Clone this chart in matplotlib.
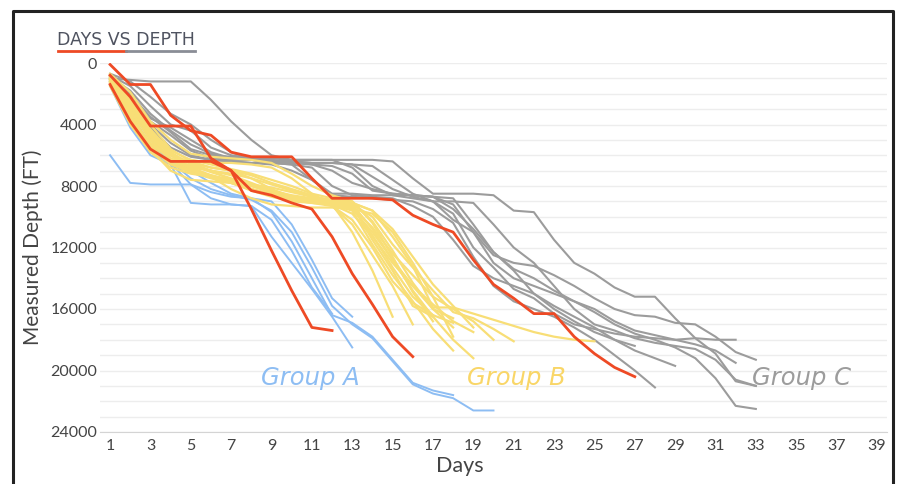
import matplotlib.pyplot as plt
from matplotlib.lines import Line2D

plt.rcParams['font.family'] = ['Lato', 'DejaVu Sans']

# depth (ft) per day, every well starts on day 1
group_a = [
    [1000, 3800, 5800, 6500, 7900, 8800, 9200, 9300, 11300, 13000, 14700, 16500, 18500],
    [800, 3000, 5000, 6300, 7000, 7800, 8500, 8800, 9700, 11600, 14000, 16400, 16900, 17800, 19300, 20800, 21300, 21600],
    [1200, 3300, 5300, 6400, 7500, 8200, 8600, 8900, 9600, 11000, 13300, 15800, 17000, 17900, 19400, 20900, 21500, 21800, 22600, 22600],
    [6000, 7800, 7900, 7900, 7900, 8400, 8700, 8800, 9000, 10500, 12800, 15300, 16500],
    [1500, 4200, 6000, 6600, 9100, 9200, 9200, 9300, 10200, 12200, 14600, 16300],
]

group_b = [
    [900, 2500, 4500, 6000, 6800, 7000, 7300, 7800, 8300, 8800, 9000, 9200, 11000, 13500, 16500],
    [1100, 3000, 5000, 6300, 6300, 6500, 6500, 6600, 6800, 7500, 8500, 9300, 10500, 12500, 14500, 17000],
    [1300, 3500, 5200, 6000, 6500, 7000, 7600, 8200, 8600, 8800, 9000, 9100, 9300, 11500, 13500, 15800, 16500],
    [800, 2200, 4000, 5600, 6400, 6800, 7000, 7300, 7800, 8200, 8600, 9000, 9200, 10800, 12800, 14500, 16000, 16600],
    [1000, 2800, 4800, 6200, 6900, 7400, 7800, 8200, 8600, 8900, 9100, 9300, 10200, 12000, 14200, 15600, 16400, 16900],
    [1200, 3200, 5500, 6600, 7100, 7500, 7800, 8200, 8500, 8800, 9000, 9200, 9600, 11800, 13800, 15500, 17300, 18700],
    [900, 2600, 4600, 5900, 6500, 6800, 7000, 7500, 8200, 8700, 8900, 9100, 9500, 11000, 12800, 14800, 16500, 18000, 19200],
    [1100, 3100, 5000, 6300, 7000, 7400, 7800, 8300, 8700, 9000, 9100, 9200, 9800, 11300, 13000, 14500, 15700, 16800, 17500],
    [1000, 2900, 4700, 6000, 6800, 7300, 7700, 8000, 8400, 8800, 9000, 9100, 9400, 10700, 12400, 13800, 15200, 16000, 16800, 18000],
    [1200, 3300, 5400, 6500, 7000, 7300, 7600, 8000, 8400, 8700, 8900, 9000, 9200, 10000, 11800, 13300, 14800, 16200, 16600, 17300, 18100],
    [800, 2400, 4300, 5800, 6600, 7100, 7500, 7900, 8300, 8600, 8800, 9000, 9100, 9600, 11300, 13200, 15900, 15900, 16300, 16700, 17100, 17500, 17800, 18000, 18100],
    [1500, 4000, 5800, 6800, 7200, 7400, 8200, 8800, 9200, 9300, 9400, 9400, 9500, 9800, 11000, 13000, 15200, 17800],
    [1000, 2700, 4400, 5700, 6300, 6600, 6900, 7200, 7600, 8000, 8500, 8800, 9000, 10300, 12200, 14300, 16000, 17200],
    [1300, 3400, 5300, 6200, 6700, 7000, 7200, 7500, 7900, 8300, 8700, 9000, 9400, 11200, 13300, 15200, 16400],
    [700, 1900, 3800, 5000, 5900, 6100, 6200, 6300, 6500, 7200, 8000, 8600, 9000, 10400, 12600, 14900, 16800],
    [1100, 3600, 5600, 7000, 7600, 7700, 7800, 7900, 8100, 8400, 8700, 8900, 9100, 9600, 10800, 12600, 14400, 15800, 17200],
]

group_c = [
    [1000, 1100, 1200, 1200, 1200, 2400, 3800, 5000, 6000, 6300, 6300, 6300, 6300, 6300, 6400, 7500, 8500, 8500, 8500, 8600, 9600, 9700, 11500, 13000, 13700, 14600, 15200, 15200, 16600, 17900, 18900, 20700, 21000],
    [800, 1500, 2800, 4000, 4400, 5500, 6000, 6200, 6300, 6400, 6500, 6500, 6600, 6700, 7600, 8500, 9000, 10200, 11000, 12500, 13000, 13200, 13800, 14500, 15300, 16000, 16400, 16500, 16900, 17000, 17800, 18800, 19300],
    [900, 2000, 3600, 4200, 5000, 5800, 6200, 6300, 6400, 6500, 6600, 7000, 7800, 8200, 8500, 8600, 8700, 9200, 11000, 13000, 14000, 14500, 15000, 15500, 16200, 17000, 17600, 18000, 18500, 19200, 20500, 22300, 22500],
    [1100, 2500, 4000, 5200, 6000, 6300, 6400, 6500, 6600, 7000, 7600, 8600, 8700, 8800, 8900, 9000, 9500, 10400, 12600, 14500, 15500, 16000, 16500, 17200, 18000, 19000, 20000, 21100],
    [1200, 2700, 4200, 5500, 6100, 6300, 6400, 6500, 6500, 6600, 6800, 8000, 8600, 8700, 8800, 9300, 10000, 11500, 13200, 14000, 14500, 15000, 15800, 16500, 17200, 18000, 18700, 19200, 19700],
    [1000, 2300, 3800, 4700, 5700, 6200, 6300, 6300, 6400, 6400, 6500, 6500, 6600, 7400, 8200, 8700, 9000, 9800, 12000, 13300, 14700, 15300, 16300, 17000, 17300, 17600, 17800, 17900, 18000, 17900, 18000, 18000],
    [900, 1800, 3300, 4400, 5300, 5900, 6200, 6300, 6400, 6500, 6600, 6700, 7200, 8300, 8500, 8600, 8700, 9500, 10800, 12300, 13400, 14000, 14800, 15500, 16000, 16800, 17400, 17700, 18000, 18300, 18700, 19500],
    [1100, 2100, 3500, 4500, 5600, 6000, 6100, 6200, 6200, 6300, 6300, 6300, 6800, 8000, 8600, 8800, 9000, 9000, 9100, 10500, 12000, 13000, 14500, 16000, 17000, 17400, 17900, 18200, 18400, 18600, 19300, 20600, 21000],
    [700, 1200, 2200, 3300, 4000, 5000, 5800, 6300, 6500, 6600, 7600, 8500, 8500, 8600, 8600, 8600, 8700, 8800, 10500, 12300, 13500, 15000, 16000, 16800, 17500, 18000, 18400],
]

highlight = [
    [800, 2200, 4100, 4100, 4100, 6200, 7000, 9500, 12200, 14800, 17200, 17400],
    [1400, 3800, 5600, 6400, 6400, 6400, 7000, 8300, 8600, 9100, 9500, 11300, 13700, 15700, 17800, 19100],
    [100, 1400, 1400, 3400, 4400, 4700, 5800, 6100, 6100, 6100, 7500, 8800, 8800, 8800, 8900, 9900, 10500, 11000, 12800, 14400, 15300, 16300, 16300, 17800, 18900, 19800, 20400],
]

group_labels = ['Group A', 'Group B', 'Group C']
label_days = [8.5, 18.7, 32.8]
label_depth = 20500

blue = '#8dbdf3'
yellow = '#f8de76'
gray = '#9c9c9c'
red = '#ee4a25'

fig = plt.figure(figsize=(8.97, 4.84), dpi=100)
ax = fig.add_axes([100 / 897, 1 - 432 / 484, 787 / 897, 369 / 484])

for ys in group_c:
    ax.plot(range(1, len(ys) + 1), ys, color=gray, lw=1.5)
for ys in group_a:
    ax.plot(range(1, len(ys) + 1), ys, color=blue, lw=1.4)
for ys in group_b:
    ax.plot(range(1, len(ys) + 1), ys, color=yellow, lw=1.6)
for ys in highlight:
    ax.plot(range(1, len(ys) + 1), ys, color=red, lw=2)

for name, d, c in zip(group_labels, label_days, [blue, '#f9d667', gray]):
    ax.text(d, label_depth, name, color=c, fontsize=17.5, style='italic', va='center',
            family='DejaVu Sans')

ax.set_xlim(0.5, 39.5)
ax.set_ylim(24000, 0)
ax.set_xticks(range(1, 40, 2))
ax.set_yticks(range(0, 24001, 4000))
ax.set_yticks(range(0, 24001, 1000), minor=True)
ax.grid(which='both', axis='y', color='#ededed', lw=1)
ax.grid(False, axis='x')
ax.set_axisbelow(True)
for s in ['top', 'right', 'left']:
    ax.spines[s].set_visible(False)
ax.spines['bottom'].set_color('#d4d4d4')
ax.tick_params(which='both', length=0, labelsize=11.5, colors='#444444')
ax.tick_params(axis='y', pad=2)
ax.tick_params(axis='x', pad=5)

fig.text(33 / 897, 1 - 247 / 484, 'Measured Depth (FT)', rotation=90, ha='center', va='center',
         fontsize=15, color='#444444')
fig.text(460 / 897, 1 - 466 / 484, 'Days', ha='center', va='center', fontsize=15.5, color='#444444')

# title with two-tone underline
fig.text(57 / 897, 1 - 40 / 484, 'DAYS VS DEPTH', ha='left', va='center', fontsize=12.5,
         color='#4f5360', family='DejaVu Sans')
uy = 1 - 51 / 484
fig.add_artist(Line2D([58 / 897, 126 / 897], [uy, uy], color=red, lw=2))
fig.add_artist(Line2D([126 / 897, 195 / 897], [uy, uy], color='#8a8d96', lw=2))

# black frame (open at the bottom)
fx0, fx1, fy = 13 / 897, 893 / 897, 1 - 11 / 484
fig.add_artist(Line2D([fx0, fx0, fx1, fx1], [0, fy, fy, 0], color='#222222', lw=2.2))

fig.savefig('out.png', dpi=100)
